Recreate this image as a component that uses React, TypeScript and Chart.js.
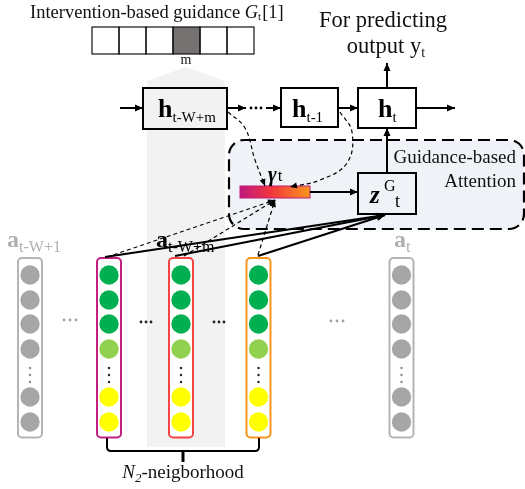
import React, { useEffect, useRef } from 'react';
import { Chart, registerables } from 'chart.js';

Chart.register(...registerables);

const CANVAS_W = 525;
const CANVAS_H = 489;
const SERIF = '"Liberation Serif", "Times New Roman", serif';

// ---- guidance vector (cells) ----
const guidanceCellEdges = [92, 119, 146, 173, 200, 227, 254];
const guidanceHighlightIndex = 3;

// ---- feature columns ----
const columnCenters = [30, 109, 181, 258.5, 401.5];
const columnBorderColors = ['#b4b4b4', '#c21f80', '#f44444', '#f7961e', '#b4b4b4'];
const columnIsActive = [false, true, true, true, false];
const nodeRowYs = [275, 300, 324, 349, 397, 422];
const activeNodeColors = ['#00b050', '#00b050', '#00b050', '#92d050', '#ffff00', '#ffff00'];
const inactiveNodeColor = '#a6a6a6';
const verticalEllipsisYs = [368, 375, 382];

// horizontal ellipses between columns: [x values, y, color]
const ellipsisGroups: [number[], number, string][] = [
  [[64, 70, 76], 320, '#a0a0a0'],
  [[141, 146, 151], 322, '#222222'],
  [[214, 219, 224], 322, '#222222'],
  [[331, 337, 343], 321, '#a0a0a0'],
];
const recurrentDotsX = [251, 256, 261];

// ---- connectors ----
type Pt = [number, number];
const connectors: { pts: Pt[]; dashed: boolean; arrow: boolean; width: number; tension: number }[] = [
  { pts: [[120, 108], [143, 108]], dashed: false, arrow: true, width: 2, tension: 0 },
  { pts: [[227, 108], [246, 108]], dashed: false, arrow: true, width: 2, tension: 0 },
  { pts: [[266, 108], [281, 108]], dashed: false, arrow: true, width: 2, tension: 0 },
  { pts: [[338, 108], [358, 108]], dashed: false, arrow: true, width: 2, tension: 0 },
  { pts: [[416, 108], [455, 108]], dashed: false, arrow: true, width: 2, tension: 0 },
  { pts: [[387, 88], [387, 63]], dashed: false, arrow: true, width: 2, tension: 0 },
  { pts: [[387, 173], [387, 128]], dashed: false, arrow: true, width: 2, tension: 0 },
  { pts: [[310, 192], [358, 192]], dashed: false, arrow: true, width: 2, tension: 0 },
  { pts: [[105, 257], [385, 215]], dashed: false, arrow: true, width: 2, tension: 0 },
  { pts: [[175, 256], [385, 215]], dashed: false, arrow: true, width: 2, tension: 0 },
  { pts: [[258, 256], [385, 215]], dashed: false, arrow: true, width: 2, tension: 0 },
  { pts: [[107, 257], [275, 200]], dashed: true, arrow: true, width: 1.2, tension: 0 },
  { pts: [[184, 256], [275, 200]], dashed: true, arrow: true, width: 1.2, tension: 0 },
  { pts: [[258, 255], [275, 200]], dashed: true, arrow: true, width: 1.2, tension: 0 },
  { pts: [[228, 112], [245, 128], [255, 160], [265, 186]], dashed: true, arrow: true, width: 1.2, tension: 0.4 },
  { pts: [[340, 112], [352, 132], [347, 163], [320, 180], [290, 187]], dashed: true, arrow: true, width: 1.2, tension: 0.4 },
];

// ---- boxes ----
const stateBoxes = [
  { x0: 143, x1: 227, y0: 88, y1: 129, fill: '#f2f2f2' },
  { x0: 281, x1: 338, y0: 88, y1: 127, fill: '#ffffff' },
  { x0: 358, x1: 416, y0: 88, y1: 128, fill: '#ffffff' },
];
const zBox = { x0: 358, x1: 416, y0: 173, y1: 214 };
const gammaBar = { x0: 240, x1: 310, y0: 186, y1: 198 };
const attentionBox = { x0: 229, x1: 524, y0: 140, y1: 229, r: 15 };

// ---- text ----
const titleText = 'Intervention-based guidance ';
const predictLines = ['For predicting', 'output y'];
const attentionLines = ['Guidance-based', 'Attention'];
const neighborhoodText = '-neigborhood';

type Run = { text: string; font: string; dy?: number; dx?: number };

function drawRuns(ctx: CanvasRenderingContext2D, runs: Run[], x: number, y: number, align: 'left' | 'center' | 'right', color: string) {
  const widths = runs.map((r) => {
    ctx.font = r.font;
    return ctx.measureText(r.text).width + (r.dx || 0);
  });
  const total = widths.reduce((a, b) => a + b, 0);
  let cx = align === 'left' ? x : align === 'center' ? x - total / 2 : x - total;
  ctx.fillStyle = color;
  ctx.textBaseline = 'alphabetic';
  ctx.textAlign = 'left';
  runs.forEach((r, i) => {
    ctx.font = r.font;
    ctx.fillText(r.text, cx + (r.dx || 0), y + (r.dy || 0));
    cx += widths[i];
  });
}

const diagramPlugin = {
  id: 'diagram',
  beforeDatasetsDraw(chart: any) {
    const ctx: CanvasRenderingContext2D = chart.ctx;
    const X = (v: number) => chart.scales.x.getPixelForValue(v);
    const Y = (v: number) => chart.scales.y.getPixelForValue(v);
    ctx.save();
    // highlight column
    ctx.fillStyle = '#f2f2f2';
    ctx.beginPath();
    ctx.moveTo(X(147), Y(447));
    ctx.lineTo(X(147), Y(81));
    ctx.lineTo(X(186), Y(67));
    ctx.lineTo(X(225), Y(81));
    ctx.lineTo(X(225), Y(447));
    ctx.closePath();
    ctx.fill();

    // attention box
    const a = attentionBox;
    ctx.beginPath();
    ctx.roundRect(X(a.x0), Y(a.y0), X(a.x1) - X(a.x0), Y(a.y1) - Y(a.y0), a.r);
    ctx.fillStyle = '#eff3f8';
    ctx.fill();
    ctx.setLineDash([12, 6]);
    ctx.lineWidth = 2.2;
    ctx.strokeStyle = '#000';
    ctx.stroke();
    ctx.setLineDash([]);

    // guidance cells
    for (let i = 0; i < guidanceCellEdges.length - 1; i++) {
      const x0 = X(guidanceCellEdges[i]);
      const x1 = X(guidanceCellEdges[i + 1]);
      ctx.fillStyle = i === guidanceHighlightIndex ? '#767171' : '#ffffff';
      ctx.fillRect(x0, Y(27), x1 - x0, Y(54) - Y(27));
    }
    ctx.lineWidth = 1.2;
    ctx.strokeStyle = '#111';
    for (let i = 0; i < guidanceCellEdges.length - 1; i++) {
      const x0 = X(guidanceCellEdges[i]);
      const x1 = X(guidanceCellEdges[i + 1]);
      ctx.strokeRect(x0, Y(27), x1 - x0, Y(54) - Y(27));
    }

    // state boxes
    ctx.lineWidth = 2;
    stateBoxes.forEach((b) => {
      ctx.fillStyle = b.fill;
      ctx.fillRect(X(b.x0), Y(b.y0), X(b.x1) - X(b.x0), Y(b.y1) - Y(b.y0));
      ctx.strokeStyle = '#000';
      ctx.strokeRect(X(b.x0), Y(b.y0), X(b.x1) - X(b.x0), Y(b.y1) - Y(b.y0));
    });
    // z box
    ctx.fillStyle = '#eff3f8';
    ctx.fillRect(X(zBox.x0), Y(zBox.y0), X(zBox.x1) - X(zBox.x0), Y(zBox.y1) - Y(zBox.y0));
    ctx.strokeRect(X(zBox.x0), Y(zBox.y0), X(zBox.x1) - X(zBox.x0), Y(zBox.y1) - Y(zBox.y0));

    // gamma bar
    const g = ctx.createLinearGradient(X(gammaBar.x0), 0, X(gammaBar.x1), 0);
    g.addColorStop(0, '#c0187e');
    g.addColorStop(0.45, '#f2373c');
    g.addColorStop(1, '#f7961e');
    ctx.fillStyle = g;
    ctx.fillRect(X(gammaBar.x0), Y(gammaBar.y0), X(gammaBar.x1) - X(gammaBar.x0), Y(gammaBar.y1) - Y(gammaBar.y0));
    ctx.lineWidth = 1;
    ctx.strokeStyle = '#c0187e';
    ctx.strokeRect(X(gammaBar.x0), Y(gammaBar.y0), X(gammaBar.x1) - X(gammaBar.x0), Y(gammaBar.y1) - Y(gammaBar.y0));

    // column outlines
    columnCenters.forEach((cx, i) => {
      ctx.beginPath();
      ctx.roundRect(X(cx - 12), Y(258), X(cx + 12) - X(cx - 12), Y(437.5) - Y(258), 4);
      ctx.fillStyle = '#ffffff';
      ctx.fill();
      ctx.lineWidth = 2;
      ctx.strokeStyle = columnBorderColors[i];
      ctx.stroke();
    });

    // brace
    ctx.strokeStyle = '#000';
    ctx.lineWidth = 2;
    ctx.beginPath();
    ctx.moveTo(X(107), Y(438));
    ctx.lineTo(X(107), Y(447));
    ctx.quadraticCurveTo(X(107), Y(451), X(111), Y(451));
    ctx.lineTo(X(255), Y(451));
    ctx.quadraticCurveTo(X(259), Y(451), X(259), Y(447));
    ctx.lineTo(X(259), Y(438));
    ctx.stroke();
    ctx.lineWidth = 3;
    ctx.beginPath();
    ctx.moveTo(X(183), Y(450));
    ctx.lineTo(X(183), Y(462));
    ctx.stroke();
    ctx.restore();
  },
  afterDatasetsDraw(chart: any) {
    const ctx: CanvasRenderingContext2D = chart.ctx;
    const X = (v: number) => chart.scales.x.getPixelForValue(v);
    const Y = (v: number) => chart.scales.y.getPixelForValue(v);
    ctx.save();
    // arrow heads
    chart.data.datasets.forEach((ds: any, i: number) => {
      if (!ds.arrowHead) return;
      const meta = chart.getDatasetMeta(i);
      const pts = meta.data;
      const last = pts[pts.length - 1];
      const prev = pts[pts.length - 2];
      let px = prev.x, py = prev.y;
      if (ds.tension > 0 && last.cp1x !== undefined) {
        px = last.cp1x; py = last.cp1y;
      }
      const ang = Math.atan2(last.y - py, last.x - px);
      const len = ds.dashed ? 7 : 8;
      const hw = ds.dashed ? 3 : 3.5;
      ctx.fillStyle = '#000';
      ctx.beginPath();
      ctx.moveTo(last.x, last.y);
      ctx.lineTo(last.x - len * Math.cos(ang) + hw * Math.sin(ang), last.y - len * Math.sin(ang) - hw * Math.cos(ang));
      ctx.lineTo(last.x - len * Math.cos(ang) - hw * Math.sin(ang), last.y - len * Math.sin(ang) + hw * Math.cos(ang));
      ctx.closePath();
      ctx.fill();
    });

    const reg = (s: number) => `${s}px ${SERIF}`;
    const bold = (s: number) => `bold ${s}px ${SERIF}`;
    const it = (s: number) => `italic ${s}px ${SERIF}`;
    const bi = (s: number) => `italic bold ${s}px ${SERIF}`;

    // title
    drawRuns(ctx, [
      { text: titleText, font: reg(18.5) },
      { text: 'G', font: it(18.5) },
      { text: 't', font: reg(11), dy: 2 },
      { text: '[1]', font: reg(18.5), dx: 1 },
    ], X(30), Y(18), 'left', '#111');
    // m
    drawRuns(ctx, [{ text: 'm', font: reg(14) }], X(186), Y(64), 'center', '#111');

    // predicting
    drawRuns(ctx, [{ text: predictLines[0], font: reg(22.5) }], X(383), Y(27), 'center', '#111');
    drawRuns(ctx, [
      { text: predictLines[1], font: reg(22.5) },
      { text: 't', font: reg(14), dy: 4 },
    ], X(386), Y(53), 'center', '#111');

    // h labels
    drawRuns(ctx, [{ text: 'h', font: bold(26) }, { text: 't-W+m', font: reg(15), dy: 5 }], X(158), Y(117), 'left', '#000');
    drawRuns(ctx, [{ text: 'h', font: bold(26) }, { text: 't-1', font: reg(15), dy: 5 }], X(292), Y(117), 'left', '#000');
    drawRuns(ctx, [{ text: 'h', font: bold(26) }, { text: 't', font: reg(15), dy: 5 }], X(378), Y(117), 'left', '#000');

    // z label
    drawRuns(ctx, [{ text: 'z', font: bi(25) }], X(370), Y(203), 'left', '#000');
    drawRuns(ctx, [{ text: 'G', font: reg(16) }], X(384), Y(191), 'left', '#000');
    drawRuns(ctx, [{ text: 't', font: reg(18) }], X(395), Y(207), 'left', '#000');

    // gamma
    drawRuns(ctx, [{ text: 'γ', font: bi(21) }, { text: 't', font: reg(17), dx: 1 }], X(268), Y(181), 'left', '#000');

    // attention label
    drawRuns(ctx, [{ text: attentionLines[0], font: reg(19) }], X(516), Y(163), 'right', '#111');
    drawRuns(ctx, [{ text: attentionLines[1], font: reg(19) }], X(516), Y(187), 'right', '#111');

    // a labels
    drawRuns(ctx, [{ text: 'a', font: bold(24) }, { text: 't-W+1', font: reg(16), dy: 5 }], X(7), Y(247), 'left', '#b0b0b0');
    drawRuns(ctx, [{ text: 'a', font: bold(24) }, { text: 't-W+m', font: reg(16), dy: 5 }], X(156), Y(247), 'left', '#000');
    drawRuns(ctx, [{ text: 'a', font: bold(24) }, { text: 't', font: reg(16), dy: 5 }], X(394), Y(247), 'left', '#b0b0b0');

    // neighborhood
    drawRuns(ctx, [
      { text: 'N', font: it(19) },
      { text: '2', font: it(13), dy: 4 },
      { text: neighborhoodText, font: reg(19) },
    ], X(183), Y(478), 'center', '#111');
    ctx.restore();
  },
};

export default function App() {
  const ref = useRef<HTMLCanvasElement | null>(null);
  useEffect(() => {
    if (!ref.current) return;
    const datasets: any[] = [];

    // nodes
    columnCenters.forEach((cx, ci) => {
      datasets.push({
        data: nodeRowYs.map((y) => ({ x: cx, y })),
        pointRadius: 9.7,
        pointBorderWidth: 0,
        pointBackgroundColor: nodeRowYs.map((_, ri) => (columnIsActive[ci] ? activeNodeColors[ri] : inactiveNodeColor)),
        showLine: false,
        clip: false,
      });
      datasets.push({
        data: verticalEllipsisYs.map((y) => ({ x: cx, y })),
        pointRadius: 1.2,
        pointBorderWidth: 0,
        pointBackgroundColor: columnIsActive[ci] ? '#222' : '#8a8a8a',
        showLine: false,
      });
    });
    ellipsisGroups.forEach(([xs, y, color]) => {
      datasets.push({
        data: xs.map((x) => ({ x, y })),
        pointRadius: 1.4,
        pointBorderWidth: 0,
        pointBackgroundColor: color,
        showLine: false,
      });
    });
    datasets.push({
      data: recurrentDotsX.map((x) => ({ x, y: 108 })),
      pointRadius: 1.4,
      pointBorderWidth: 0,
      pointBackgroundColor: '#000',
      showLine: false,
    });
    connectors.forEach((c) => {
      datasets.push({
        data: c.pts.map(([x, y]) => ({ x, y })),
        showLine: true,
        pointRadius: 0,
        borderColor: '#000',
        borderWidth: c.width,
        borderDash: c.dashed ? [4, 3] : [],
        tension: c.tension,
        fill: false,
        arrowHead: c.arrow,
        dashed: c.dashed,
        clip: false,
      });
    });

    const chart = new Chart(ref.current, {
      type: 'scatter',
      data: { datasets },
      options: {
        responsive: false,
        maintainAspectRatio: false,
        animation: false,
        devicePixelRatio: 1,
        events: [],
        layout: { padding: 0, autoPadding: false },
        scales: {
          x: { type: 'linear', min: 0, max: CANVAS_W, display: false },
          y: { type: 'linear', min: 0, max: CANVAS_H, reverse: true, display: false },
        },
        plugins: { legend: { display: false }, tooltip: { enabled: false } },
      },
      plugins: [diagramPlugin],
    } as any);
    return () => chart.destroy();
  }, []);

  return (
    <div style={{ position: 'absolute', left: 0, top: 0, width: CANVAS_W, height: CANVAS_H, background: '#fff' }}>
      <canvas ref={ref} width={CANVAS_W} height={CANVAS_H} style={{ width: CANVAS_W, height: CANVAS_H, display: 'block' }} />
    </div>
  );
}
